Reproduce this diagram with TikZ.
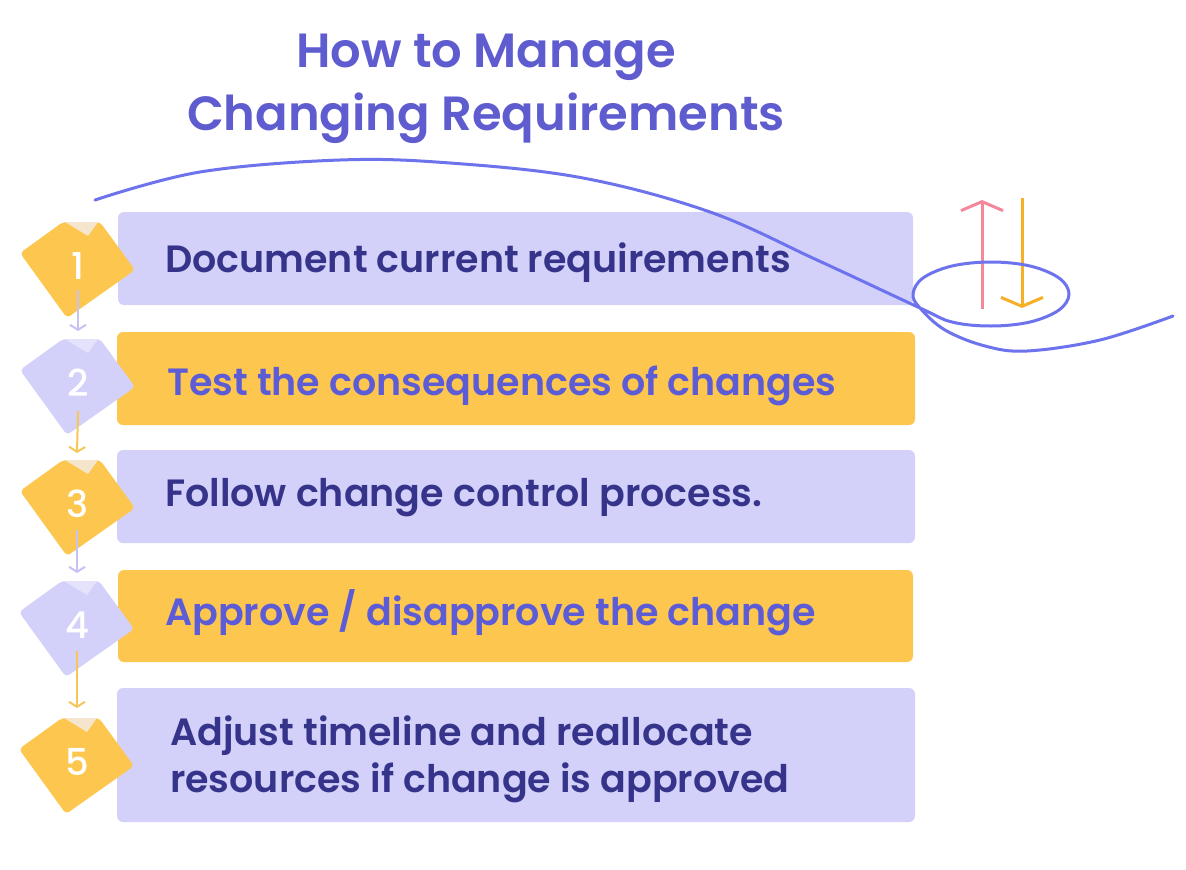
\documentclass[tikz,border=0pt]{standalone}
\usepackage{fontspec}
\setmainfont{Poppins}
\newfontfamily\headfont{Poppins SemiBold}
\newfontfamily\numfont{Poppins Medium}
\usetikzlibrary{arrows.meta,calc}
\definecolor{boxlav}{HTML}{D3D1F9}
\definecolor{boxyel}{HTML}{FDC74F}
\definecolor{notchlav}{HTML}{E4E3FB}
\definecolor{notchyel}{HTML}{F4E5CC}
\definecolor{inkdark}{HTML}{36348A}
\definecolor{inkpurple}{HTML}{5C5CD6}
\definecolor{titleink}{HTML}{5F5CCF}
\definecolor{wave}{HTML}{6C73EC}
\definecolor{uppink}{HTML}{F4879A}
\definecolor{downorange}{HTML}{F5B027}
\definecolor{linklav}{HTML}{C6C3F4}
\definecolor{linkyel}{HTML}{F7C65A}
\def\stepdiamond(#1,#2)#3#4{%
	\fill[#3, shift={(#1,#2)}, rounded corners=4pt] (-14,-40) -- (23,-40) -- (58,8) -- (-10,56) -- (-57,-9) -- cycle;
	\fill[#4, shift={(#1,#2)}] (-12,-40) -- (21,-40) -- (11,-26) -- cycle;}
\tikzset{
	stepbox/.style={rounded corners=6pt},
	steptext/.style={anchor=base west, inner sep=0pt, font=\headfont\fontsize{38}{42}\selectfont},
	titletext/.style={anchor=base, inner sep=0pt, text=titleink, font=\headfont\fontsize{48}{52}\selectfont},
	numtext/.style={inner sep=0pt, text=white, font=\numfont\fontsize{37}{40}\selectfont},
	steplink/.style={line width=2pt, -{Straight Barb[length=5pt,width=16pt]}},
	swaparrow/.style={line width=3pt, -{Straight Barb[length=9pt,width=42pt]}}
}

\begin{document}
\begin{tikzpicture}[x=1pt,y=-1pt]
			%%%%% START %%%%%
			\fill[white] (0,0) rectangle (1186,870);
			\useasboundingbox (0,0) rectangle (1186,870);
			
			\node[titletext] (title1) at (486,67) {How to Manage};
			\node[titletext] (title2) at (486,130) {Changing Requirements};
			
			\fill[boxlav, stepbox] (118,212) rectangle (913,305);
			\fill[boxyel, stepbox] (117,332) rectangle (915,425);
			\fill[boxlav, stepbox] (117,450) rectangle (915,543);
			\fill[boxyel, stepbox] (118,570) rectangle (913,662);
			\fill[boxlav, stepbox] (117,688) rectangle (915,822);
			
			\node[steptext, text=inkdark] (t1) at (165,272) {Document current requirements};
			\node[steptext, text=inkpurple] (t2) at (167,395) {Test the consequences of changes};
			\node[steptext, text=inkdark] (t3) at (165,506) {Follow change control process.};
			\node[steptext, text=inkpurple] (t4) at (165,625) {Approve / disapprove the change};
			\node[steptext, text=inkdark] (t5a) at (170,745) {Adjust timeline and reallocate};
			\node[steptext, text=inkdark] (t5b) at (170,792) {resources if change is approved};
			
			\stepdiamond(77,262){boxyel}{notchyel}
			\stepdiamond(77,379){boxlav}{notchlav}
			\stepdiamond(77,500){boxyel}{notchyel}
			\stepdiamond(76,621){boxlav}{notchlav}
			\stepdiamond(76,758){boxyel}{notchyel}
			
			\node[numtext] (n1) at (78,266) {1};
			\node[numtext] (n2) at (78,383) {2};
			\node[numtext] (n3) at (77,504) {3};
			\node[numtext] (n4) at (77,625) {4};
			\node[numtext] (n5) at (77,762) {5};
			
			\draw[steplink, linklav] ([yshift=-24pt]n1.center) -- ([yshift=52pt]n2.center);
			\draw[steplink, linkyel] ([yshift=-28pt]n2.center) -- ([yshift=51pt]n3.center);
			\draw[steplink, linklav] ([yshift=-26pt]n3.center) -- ([yshift=52pt]n4.center);
			\draw[steplink, linkyel] ([yshift=-26pt]n4.center) -- ([yshift=54pt]n5.center);
			
			\coordinate (upfoot) at (982,309);
			\coordinate (uphead) at (982,200);
			\coordinate (downfoot) at (1022,198);
			\coordinate (downhead) at (1022,308);
			\draw[swaparrow, uppink] (upfoot) -- (uphead);
			\draw[swaparrow, downorange] (downfoot) -- (downhead);
			
			% wave with loop
			\draw[wave, line width=3pt, line cap=round] plot[smooth, tension=0.6] coordinates {(95,200) (200,172) (340,160) (450,163) (583,178) (710,212) (817,260) (920,308) (952,322) (991,326) (1030,322) (1059,310) (1069,294) (1059,278) (1030,266) (991,262) (952,266) (923,278) (913,294) (920,308) (945,330) (985,346) (1027,351) (1100,340) (1173,316)};
			
			%%%%% END %%%%%
\end{tikzpicture}
\end{document}
